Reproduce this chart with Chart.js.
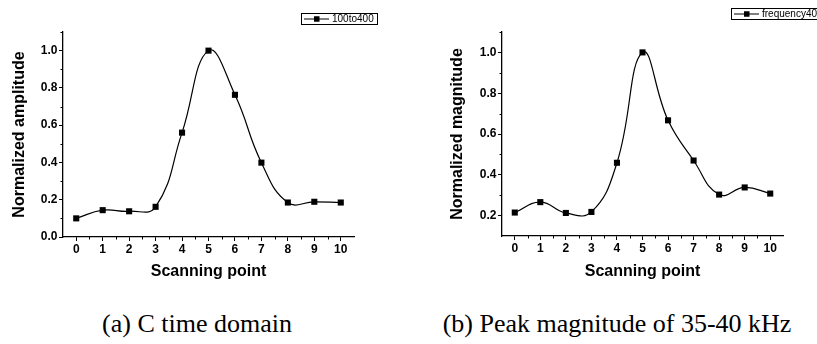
<!DOCTYPE html>
<html>
<head>
<meta charset="utf-8">
<script src="https://cdn.jsdelivr.net/npm/chart.js@4.4.1/dist/chart.umd.min.js"></script>
<style>
  html, body { margin: 0; padding: 0; background: #fff; }
  body { width: 817px; height: 344px; position: relative; overflow: hidden; }
  .panel { position: absolute; top: 0; height: 290px; }
  .cap { position: absolute; width: 440px; text-align: center; font-family: "Liberation Serif", "Times New Roman", serif;
         font-size: 26px; line-height: 26px; color: #000; white-space: nowrap; }
</style>
</head>
<body>
<div class="panel" style="left:0;width:410px"><canvas id="ca" width="410" height="290"></canvas></div>
<div class="panel" style="left:410px;width:407px"><canvas id="cb" width="407" height="290"></canvas></div>
<div class="cap" style="left:-23px;top:311px">(a) C time domain</div>
<div class="cap" style="left:397px;top:311px">(b) Peak magnitude of 35-40 kHz</div>
<script>
// ---- data ----
const scanPoints = [0, 1, 2, 3, 4, 5, 6, 7, 8, 9, 10];
const amplitudeA = [0.100, 0.144, 0.138, 0.162, 0.560, 1.000, 0.763, 0.399, 0.185, 0.189, 0.185];
const magnitudeB = [0.215, 0.266, 0.213, 0.218, 0.459, 1.000, 0.667, 0.470, 0.303, 0.338, 0.308];
const xTickValues = [0, 1, 2, 3, 4, 5, 6, 7, 8, 9, 10];
const xMinorTicks = [0.5, 1.5, 2.5, 3.5, 4.5, 5.5, 6.5, 7.5, 8.5, 9.5];
const yTicksA = [0, 0.2, 0.4, 0.6, 0.8, 1.0];
const yMinorA = [0.1, 0.3, 0.5, 0.7, 0.9, 1.1];
const yTicksB = [0.2, 0.4, 0.6, 0.8, 1.0];
const yMinorB = [0.3, 0.5, 0.7, 0.9, 1.1];
const seriesNameA = '100to400';
const seriesNameB = 'frequency40';
const xTitle = 'Scanning point';
const yTitleA = 'Normalized amplitude';
const yTitleB = 'Normalized magnitude';

Chart.defaults.font.family = '"Liberation Sans", Arial, sans-serif';
Chart.defaults.color = '#000';

const minorTickPlugin = {
  id: 'minorTicks',
  afterDraw(chart, args, opts) {
    const ctx = chart.ctx;
    const xs = chart.scales.x, ys = chart.scales.y;
    ctx.save();
    ctx.strokeStyle = '#000';
    ctx.lineWidth = 1;
    ctx.beginPath();
    opts.x.forEach(v => {
      const p = Math.round(xs.getPixelForValue(v)) + 0.5;
      ctx.moveTo(p, xs.top); ctx.lineTo(p, xs.top + 2.5);
    });
    opts.y.forEach(v => {
      const p = Math.round(ys.getPixelForValue(v)) + 0.5;
      ctx.moveTo(ys.right - 2.5, p); ctx.lineTo(ys.right, p);
    });
    ctx.stroke();
    ctx.restore();
  }
};

const legendBoxPlugin = {
  id: 'legendBox',
  afterDraw(chart, args, o) {
    const ctx = chart.ctx;
    ctx.save();
    ctx.strokeStyle = '#000';
    ctx.lineWidth = 1;
    ctx.strokeRect(o.left + 0.5, o.top + 0.5, o.width, o.height);
    const cy = o.top + o.height / 2 + 0.5;
    ctx.beginPath();
    ctx.moveTo(o.left + 3, cy); ctx.lineTo(o.left + 28, cy);
    ctx.stroke();
    ctx.fillStyle = '#000';
    ctx.fillRect(o.left + 13, cy - 2.75, 5.5, 5.5);
    ctx.font = '10px "Liberation Sans", Arial, sans-serif';
    ctx.textBaseline = 'middle';
    ctx.textAlign = 'left';
    ctx.fillText(chart.data.datasets[0].label, o.left + 31, cy + 0.5);
    ctx.restore();
  }
};

function makeChart(id, values, label, yMin, yTicks, yMinor, yTitle, cfg) {
  return new Chart(document.getElementById(id), {
    type: 'line',
    data: {
      datasets: [{
        label: label,
        data: scanPoints.map((x, i) => ({ x: x, y: values[i] })),
        borderColor: '#000',
        backgroundColor: '#000',
        borderWidth: 1.2,
        tension: 0.45,
        pointStyle: 'rect',
        pointRadius: 4.3,
        pointBorderWidth: 0,
        pointBackgroundColor: '#000',
        fill: false
      }]
    },
    options: {
      responsive: false,
      devicePixelRatio: 1,
      animation: false,
      events: [],
      layout: { padding: { top: 32, right: cfg.padRight, bottom: 0, left: 0 } },
      plugins: {
        legend: { display: false },
        tooltip: { enabled: false },
        minorTicks: { x: xMinorTicks, y: yMinor },
        legendBox: cfg.legend
      },
      scales: {
        x: {
          type: 'linear', min: -0.5, max: 10.5,
          afterBuildTicks: s => { s.ticks = xTickValues.map(v => ({ value: v })); },
          afterFit: s => { s.height = cfg.xHeight; },
          grid: { drawOnChartArea: false, drawTicks: true, tickLength: 4, tickColor: '#000', tickWidth: 1 },
          border: { display: true, color: '#000', width: 1.3 },
          ticks: { font: { size: 12, weight: 'bold' }, color: '#000', padding: 1, maxRotation: 0, autoSkip: false, includeBounds: false },
          title: { display: true, text: xTitle, color: '#000', font: { size: 16, weight: 'bold' }, padding: { top: 0, bottom: 9 } }
        },
        y: {
          type: 'linear', min: yMin, max: 1.1,
          afterBuildTicks: s => { s.ticks = yTicks.map(v => ({ value: v })); },
          afterFit: s => { s.width = cfg.yWidth; },
          grid: { drawOnChartArea: false, drawTicks: true, tickLength: 4, tickColor: '#000', tickWidth: 1 },
          border: { display: true, color: '#000', width: 1.3 },
          ticks: { font: { size: 12, weight: 'bold' }, color: '#000', padding: 1.5, includeBounds: false,
                   callback: v => Number(v).toFixed(1) },
          title: { display: true, text: yTitle, color: '#000', font: { size: 16, weight: 'bold' }, padding: { top: cfg.yTitlePad, bottom: 0 } }
        }
      }
    },
    plugins: [minorTickPlugin, legendBoxPlugin]
  });
}

makeChart('ca', amplitudeA, seriesNameA, 0, yTicksA, yMinorA, yTitleA, {
  padRight: 56, xHeight: 53, yWidth: 63, yTitlePad: 10,
  legend: { left: 301, top: 13, width: 76, height: 11 }
});
makeChart('cb', magnitudeB, seriesNameB, 0.1, yTicksB, yMinorB, yTitleB, {
  padRight: 34, xHeight: 54, yWidth: 92, yTitlePad: 38,
  legend: { left: 321, top: 8, width: 86, height: 11 }
});
</script>
</body>
</html>
